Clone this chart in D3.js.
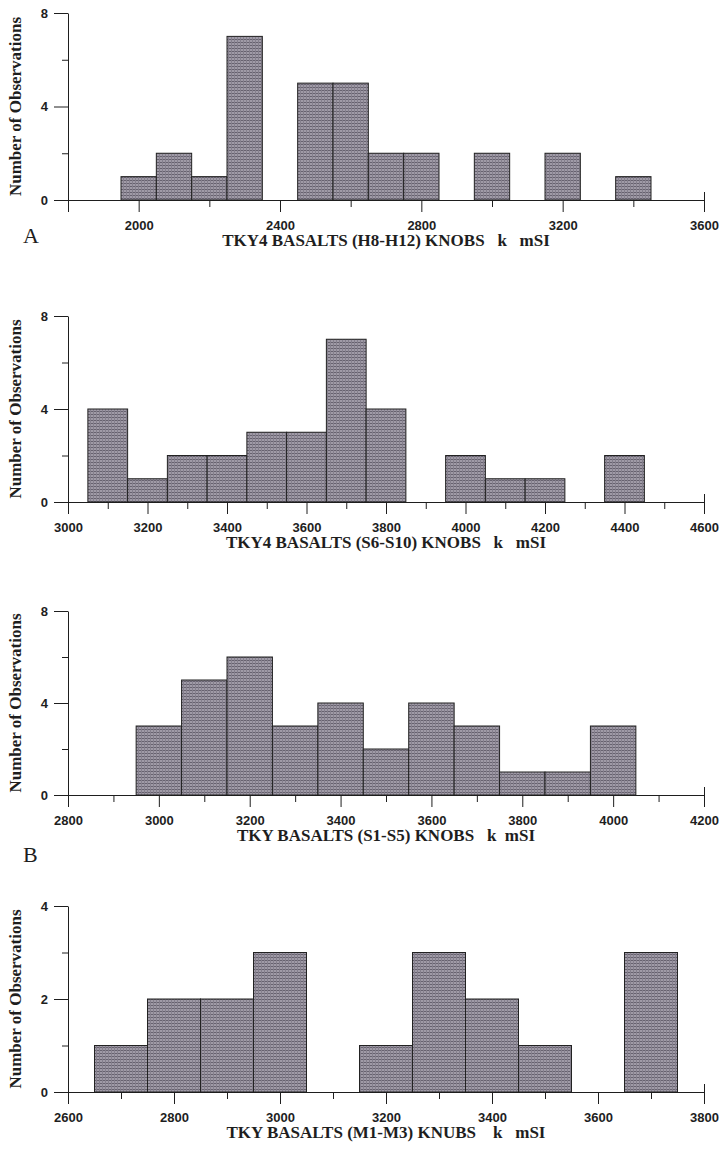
<!DOCTYPE html>
<html>
<head>
<meta charset="utf-8">
<script src="https://cdn.jsdelivr.net/npm/d3@7"></script>
<style>
	body { margin: 0; background: #fff; }
	svg { display: block; }
</style>
</head>
<body>
<svg width="720" height="1151"></svg>
<script>
// bin centres (class width 100) and counts
var binsH = [2000, 2100, 2200, 2300, 2400, 2500, 2600, 2700, 2800, 2900, 3000, 3100, 3200, 3300, 3400];
var countsH = [1, 2, 1, 7, 0, 5, 5, 2, 2, 0, 2, 0, 2, 0, 1];

var binsS6 = [3100, 3200, 3300, 3400, 3500, 3600, 3700, 3800, 3900, 4000, 4100, 4200, 4300, 4400];
var countsS6 = [4, 1, 2, 2, 3, 3, 7, 4, 0, 2, 1, 1, 0, 2];

var binsS1 = [3000, 3100, 3200, 3300, 3400, 3500, 3600, 3700, 3800, 3900, 4000];
var countsS1 = [3, 5, 6, 3, 4, 2, 4, 3, 1, 1, 3];

var binsM = [2700, 2800, 2900, 3000, 3100, 3200, 3300, 3400, 3500, 3600, 3700];
var countsM = [1, 2, 2, 3, 0, 1, 3, 2, 1, 0, 3];

var xLabelsH = [2000, 2400, 2800, 3200, 3600];
var xLabelsS6 = [3000, 3200, 3400, 3600, 3800, 4000, 4200, 4400, 4600];
var xLabelsS1 = [2800, 3000, 3200, 3400, 3600, 3800, 4000, 4200];
var xLabelsM = [2600, 2800, 3000, 3200, 3400, 3600, 3800];

var titles = [
	"TKY4 BASALTS (H8-H12) KNOBS\u00a0\u00a0\u00a0k\u00a0\u00a0\u00a0mSI",
	"TKY4 BASALTS (S6-S10) KNOBS\u00a0\u00a0\u00a0k\u00a0\u00a0\u00a0mSI",
	"TKY BASALTS (S1-S5) KNOBS\u00a0\u00a0\u00a0k\u00a0\u00a0mSI",
	"TKY BASALTS (M1-M3) KNUBS\u00a0\u00a0\u00a0\u00a0k\u00a0\u00a0\u00a0mSI"
];
var yTitle = "Number of Observations";

var svg = d3.select("svg");
var left = 68, right = 704;
var serif = "'Liberation Serif', 'Times New Roman', serif";
var sans = "'Liberation Sans', Arial, sans-serif";

// grey screen-tone fill of the printed bars
var pat = svg.append("defs").append("pattern")
	.attr("id", "tone")
	.attr("width", 3)
	.attr("height", 3)
	.attr("patternUnits", "userSpaceOnUse");
pat.append("rect").attr("width", 3).attr("height", 3).attr("fill", "#a09ba7");
pat.append("rect").attr("width", 3).attr("height", 1).attr("fill", "#67626f");
pat.append("rect").attr("width", 1).attr("height", 3).attr("fill", "#85808d");

var panels = [
	{ bins: binsH, counts: countsH, labels: xLabelsH, title: titles[0], x0: 1800, x1: 3600, step: 200, yMax: 8, top: 13, base: 200, letter: "A", letterY: 243 },
	{ bins: binsS6, counts: countsS6, labels: xLabelsS6, title: titles[1], x0: 3000, x1: 4600, step: 100, yMax: 8, top: 316, base: 502 },
	{ bins: binsS1, counts: countsS1, labels: xLabelsS1, title: titles[2], x0: 2800, x1: 4200, step: 100, yMax: 8, top: 611, base: 795, letter: "B", letterY: 862 },
	{ bins: binsM, counts: countsM, labels: xLabelsM, title: titles[3], x0: 2600, x1: 3800, step: 100, yMax: 4, top: 906, base: 1092 }
];

panels.forEach(function(p) {
	var x = d3.scaleLinear().domain([p.x0, p.x1]).range([left, right]);
	var y = d3.scaleLinear().domain([0, p.yMax]).range([p.base, p.top]);
	var g = svg.append("g");

	var data = p.bins.map(function(b, i) { return { bin: b, n: p.counts[i] }; })
		.filter(function(d) { return d.n > 0; });

	g.selectAll("rect.bar")
		.data(data)
		.enter().append("rect")
		.attr("class", "bar")
		.attr("x", function(d) { return x(d.bin - 50); })
		.attr("y", function(d) { return y(d.n); })
		.attr("width", function(d) { return x(d.bin + 50) - x(d.bin - 50); })
		.attr("height", function(d) { return p.base - y(d.n); })
		.attr("fill", "url(#tone)")
		.attr("stroke", "#222")
		.attr("stroke-width", 1);

	// x axis
	var xt = d3.range(p.x0, p.x1 + 1, p.step);
	var xa = g.append("g")
		.attr("transform", "translate(0," + p.base + ")")
		.call(d3.axisBottom(x)
			.tickValues(xt)
			.tickSizeInner(7)
			.tickSizeOuter(0)
			.tickFormat(function(v) { return p.labels.indexOf(v) >= 0 ? v : ""; }));
	xa.selectAll(".tick line")
		.attr("y2", function(v) { return (p.labels.indexOf(v) >= 0 || v == p.x0) ? 12 : 7; })
		.attr("y1", function(v) { return v == p.x1 ? -8 : 0; });
	xa.selectAll(".tick text")
		.attr("y", 21)
		.style("font", "bold 13px " + sans)
		.attr("fill", "#1e1e1e");

	// y axis
	var yt = d3.range(0, p.yMax + 1, p.yMax / 4);
	var ya = g.append("g")
		.attr("transform", "translate(" + left + ",0)")
		.call(d3.axisLeft(y)
			.tickValues(yt)
			.tickSizeInner(6)
			.tickSizeOuter(0)
			.tickFormat(function(v, i) { return i % 2 == 0 ? v : ""; }));
	ya.selectAll(".tick line")
		.attr("x2", function(v, i) { return i % 2 == 0 ? -14 : -6; });
	ya.selectAll(".tick text")
		.attr("x", -20)
		.style("font", "bold 13px " + sans)
		.attr("fill", "#1e1e1e");

	g.selectAll(".domain").attr("stroke", "#1e1e1e");
	g.selectAll(".tick line").attr("stroke", "#1e1e1e");

	g.append("text")
		.attr("transform", "translate(15," + ((p.top + p.base) / 2) + ") rotate(-90)")
		.attr("text-anchor", "middle")
		.attr("dy", "0.35em")
		.style("font", "bold 17px " + serif)
		.attr("fill", "#1e1e1e")
		.text(yTitle);

	g.append("text")
		.attr("x", 386)
		.attr("y", p.base + 46)
		.attr("text-anchor", "middle")
		.style("font", "bold 17px " + serif)
		.attr("fill", "#1e1e1e")
		.text(p.title);

	if (p.letter) {
		g.append("text")
			.attr("x", 23)
			.attr("y", p.letterY)
			.style("font", "22px " + serif)
			.attr("fill", "#1e1e1e")
			.text(p.letter);
	}
});
</script>
</body>
</html>
